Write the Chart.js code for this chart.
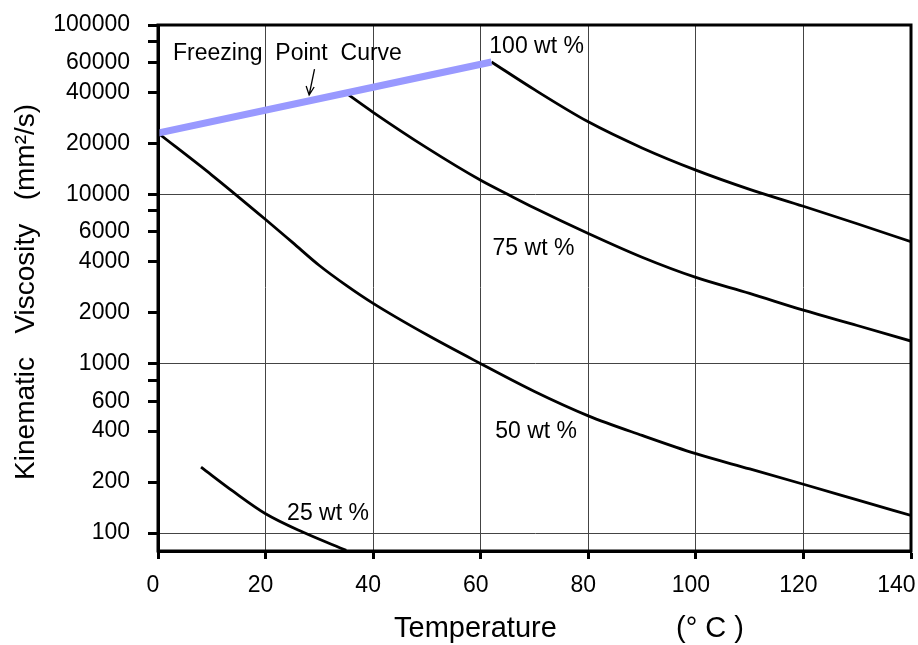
<!DOCTYPE html>
<html>
<head>
<meta charset="utf-8">
<script src="https://cdn.jsdelivr.net/npm/chart.js@4.4.1/dist/chart.umd.min.js"></script>
<style>
  body { margin: 0; background: #fff; }
  #box { width: 918px; height: 645px; }
</style>
</head>
<body>
<div id="box"><canvas id="myGraph" width="918" height="645"></canvas></div>
<script>
// temperature (deg C) vs kinematic viscosity (mm2/s)

var tempsFreeze = [0, 62];
var viscFreeze = [23000, 60500];

var temps100 = [62, 70, 80, 90, 100, 110, 120, 130, 140];
var visc100 = [60500, 41500, 26800, 18800, 13900, 10700, 8500, 6700, 5250];

var temps75 = [35.5, 40, 50, 60, 65, 70, 80, 90, 100, 110, 120, 130, 140];
var visc75 = [38500, 30500, 18800, 12100, 10000, 8300, 5870, 4250, 3230, 2600, 2070, 1680, 1360];

var temps50 = [0, 10, 20, 25, 30, 35, 40, 50, 60, 70, 80, 90, 100, 110, 120, 130, 140];
var visc50 = [23000, 13000, 7100, 5200, 3800, 2900, 2270, 1480, 1000, 685, 492, 377, 294, 239, 194, 157, 127];

var temps25 = [8, 14, 20, 27, 35];
var visc25 = [245, 176, 130, 101, 79];

var xTicks = [0, 20, 40, 60, 80, 100, 120, 140];
var yTicks = [100, 200, 400, 600, 800, 1000, 2000, 4000, 6000, 8000, 10000,
              20000, 40000, 60000, 80000, 100000];
var yUnlabelled = [800, 8000, 80000];
var yGrid = [100, 1000, 10000];

function pts(xs, ys) {
  return xs.map((x, i) => ({x: x, y: ys[i]}));
}

var font = "'Liberation Sans', Arial, sans-serif";

// curve labels, placed in data units
var curveNotes = [
  {text: "Freezing  Point  Curve", x: 2.8, y: 68000},
  {text: "100 wt %", x: 61.6, y: 74500},
  {text: "75 wt %", x: 62.2, y: 4790},
  {text: "50 wt %", x: 62.7, y: 398},
  {text: "25 wt %", x: 24.0, y: 130}
];

var notes = {
  id: "notes",
  afterDatasetsDraw: function(chart) {
    var ctx = chart.ctx;
    var xs = chart.scales.x, ys = chart.scales.y, a = chart.chartArea;
    ctx.save();
    ctx.strokeStyle = "#000";
    ctx.lineWidth = 3;
    ctx.strokeRect(a.left, a.top, a.right - a.left, a.bottom - a.top);

    ctx.fillStyle = "#000";
    ctx.font = "23px " + font;
    ctx.textAlign = "left";
    ctx.textBaseline = "middle";
    curveNotes.forEach(function(n) {
      ctx.fillText(n.text, xs.getPixelForValue(n.x), ys.getPixelForValue(n.y));
    });

    // little arrow from the label down to the freezing line
    var x0 = xs.getPixelForValue(29.1), y0 = ys.getPixelForValue(54900);
    var x1 = xs.getPixelForValue(28.1), y1 = ys.getPixelForValue(38600);
    ctx.lineWidth = 1.3;
    ctx.beginPath();
    ctx.moveTo(x0, y0);
    ctx.lineTo(x1, y1);
    ctx.moveTo(x1 - 3, y1 - 9);
    ctx.lineTo(x1, y1);
    ctx.lineTo(x1 + 5, y1 - 8);
    ctx.stroke();

    // x axis title
    ctx.font = "29px " + font;
    ctx.textBaseline = "middle";
    ctx.fillText("Temperature", 394, 629);
    ctx.fillText("(\u00B0 C )", 676, 629);
    ctx.restore();
  }
};

var graph = document.getElementById("myGraph").getContext("2d");

new Chart(graph, {
  type: "line",
  data: {
    datasets: [
      {
        label: "Freezing Point Curve",
        data: pts(tempsFreeze, viscFreeze),
        borderColor: "#9999ff",
        borderWidth: 7,
        borderCapStyle: "butt"
      },
      {
        label: "100 wt %",
        data: pts(temps100, visc100),
        borderColor: "#000",
        borderWidth: 2.8
      },
      {
        label: "75 wt %",
        data: pts(temps75, visc75),
        borderColor: "#000",
        borderWidth: 2.8
      },
      {
        label: "50 wt %",
        data: pts(temps50, visc50),
        borderColor: "#000",
        borderWidth: 2.8
      },
      {
        label: "25 wt %",
        data: pts(temps25, visc25),
        borderColor: "#000",
        borderWidth: 2.8
      }
    ]
  },
  options: {
    responsive: false,
    animation: false,
    cubicInterpolationMode: "monotone",
    pointRadius: 0,
    layout: {padding: {top: 25, right: 7, left: 0, bottom: 0}},
    plugins: {
      legend: {display: false},
      tooltip: {enabled: false}
    },
    scales: {
      x: {
        type: "linear",
        min: 0,
        max: 140,
        afterBuildTicks: function(scale) {
          scale.ticks = xTicks.map(v => ({value: v}));
        },
        afterFit: function(scale) {
          scale.height = 94;
          scale.paddingLeft = 0;
          scale.paddingRight = 0;
        },
        border: {color: "#000", width: 3},
        grid: {
          color: ctx => (ctx.tick && ctx.tick.value > 0 && ctx.tick.value < 140) ? "#444" : "rgba(0,0,0,0)",
          lineWidth: 1,
          tickColor: "#000",
          tickLength: 8,
          tickWidth: 3
        },
        ticks: {
          color: "#000",
          padding: 13,
          labelOffset: -5,
          maxRotation: 0,
          font: {family: font, size: 23},
          // last label sits inside the frame, as in the original
          callback: function(value) {
            return value === 140 ? "140   " : String(value);
          }
        }
      },
      y: {
        type: "logarithmic",
        min: 78.3,
        max: 100000,
        afterBuildTicks: function(scale) {
          scale.ticks = yTicks.map(v => ({value: v}));
        },
        afterFit: function(scale) {
          scale.width = 158;
          scale.paddingTop = 0;
          scale.paddingBottom = 0;
        },
        border: {color: "#000", width: 3},
        grid: {
          color: ctx => (ctx.tick && yGrid.includes(ctx.tick.value)) ? "#444" : "rgba(0,0,0,0)",
          lineWidth: 1,
          tickColor: "#000",
          tickLength: 10,
          tickWidth: 3
        },
        ticks: {
          color: "#000",
          padding: 18,
          font: {family: font, size: 23},
          callback: function(value) {
            return yUnlabelled.includes(value) ? "" : String(value);
          }
        },
        title: {
          display: true,
          text: "Kinematic   Viscosity   (mm\u00B2/s) ",
          color: "#000",
          font: {family: font, size: 28, weight: "normal"},
          padding: {top: 9, bottom: 0}
        }
      }
    }
  },
  plugins: [notes]
});
</script>
</body>
</html>
